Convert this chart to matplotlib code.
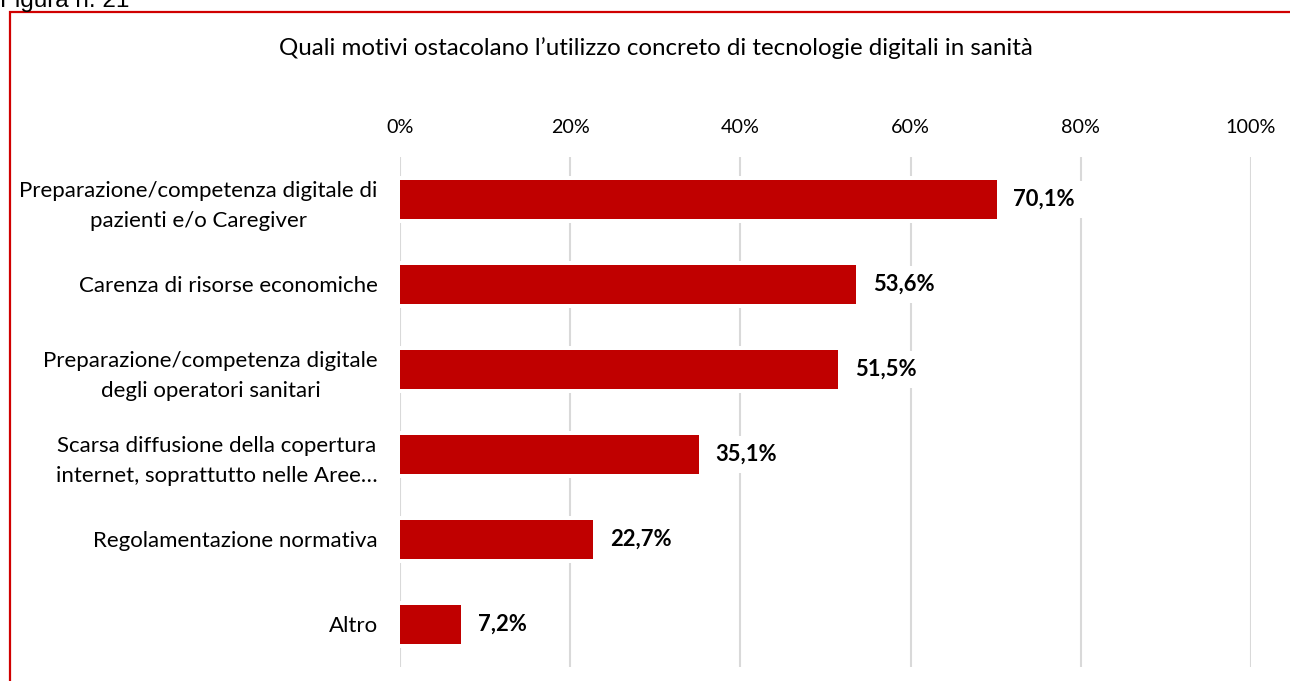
import matplotlib.pyplot as plt
from matplotlib.patches import Rectangle

# ======================================================
# DATA
# ======================================================

categories = [
    "Preparazione/competenza digitale di\npazienti e/o Caregiver",
    "Carenza di risorse economiche",
    "Preparazione/competenza digitale\ndegli operatori sanitari",
    "Scarsa diffusione della copertura\ninternet, soprattutto nelle Aree…",
    "Regolamentazione normativa",
    "Altro",
]
values = [70.1, 53.6, 51.5, 35.1, 22.7, 7.2]
xticks = [0, 20, 40, 60, 80, 100]
xtick_labels = ["0%", "20%", "40%", "60%", "80%", "100%"]

TITLE = "Quali motivi ostacolano l\u2019utilizzo concreto di tecnologie digitali in sanità"
BAR_COLOR = "#C00000"
GRID_COLOR = "#D9D9D9"

plt.rcParams["font.family"] = ["Lato", "DejaVu Sans"]

# ======================================================
# PLOT
# ======================================================

fig = plt.figure(figsize=(12.9, 6.81), dpi=100)
ax = fig.add_axes([400 / 1290, 1 - 667 / 681, 851 / 1290, 510 / 681])

pos = list(range(len(categories)))

# white band behind each bar so the gridlines break around it
ax.barh(pos, [v + 0.6 for v in values], left=-0.6, height=0.55,
        color="white", zorder=2)
ax.barh(pos, values, height=0.45, color=BAR_COLOR, zorder=3)

for p, v in zip(pos, values):
    ax.annotate(f"{v:.1f}%".replace(".", ","), xy=(v, p), xytext=(12, 0),
                textcoords="offset points", va="center", ha="left",
                fontsize=15.8, fontweight="bold", color="black", zorder=4,
                bbox=dict(boxstyle="square,pad=0.35", fc="white", ec="none"))

ax.set_xlim(0, 100)
ax.set_ylim(len(categories) - 0.5, -0.5)
ax.set_xticks(xticks)
ax.set_xticklabels(xtick_labels)
ax.set_yticks(pos)
ax.set_yticklabels(categories, linespacing=1.6)
for t in ax.get_yticklabels():
    t.set_multialignment("center")

ax.xaxis.tick_top()
ax.tick_params(axis="x", length=0, pad=15, labelsize=14.2)
ax.tick_params(axis="y", length=0, pad=16, labelsize=16)
ax.grid(axis="x", color=GRID_COLOR, linewidth=1.5, zorder=1)
ax.set_axisbelow(True)
for s in ax.spines.values():
    s.set_visible(False)

fig.text(656 / 1290, 1 - 48 / 681, TITLE, ha="center", va="center",
         fontsize=17.4, color="black")

# outer frame and figure caption
fig.patches.append(Rectangle((10 / 1290, -0.1), 1.2, 1.1 - 12 / 681,
                             transform=fig.transFigure, fill=False,
                             edgecolor="#D00000", linewidth=1.6))
fig.text(0, 1 - 7 / 681, "Figura n. 21", ha="left", va="baseline",
         fontsize=17.5, family="Liberation Sans", color="black")

fig.savefig("out.png", dpi=100)
